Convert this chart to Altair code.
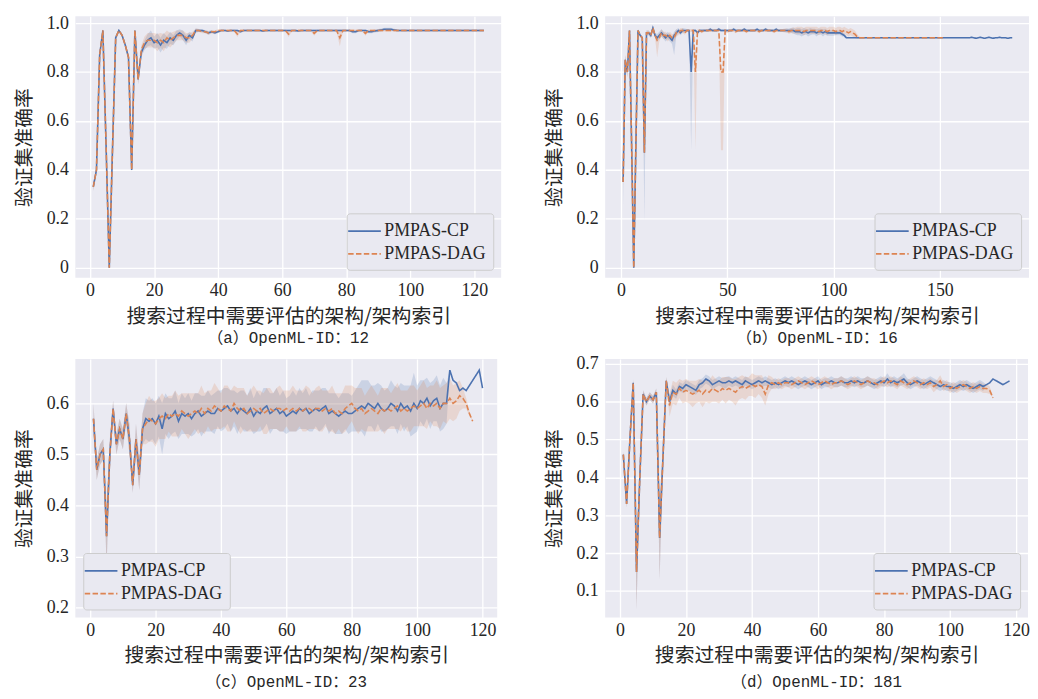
import altair as alt
import pandas as pd

BLUE = "#4C72B0"
ORANGE = "#DD8452"
SERIES = ["PMPAS-CP", "PMPAS-DAG"]
XTITLE = "搜索过程中需要评估的架构/架构索引"
YTITLE = "验证集准确率"

# ---------------- (a) OpenML-ID 12 ----------------
a_cp = [0.33, 0.40, 0.87, 0.97, 0.50, 0.00, 0.48, 0.94, 0.97, 0.95,
        0.91, 0.86, 0.40, 0.97, 0.77, 0.88, 0.91, 0.93, 0.94, 0.92,
        0.93, 0.91, 0.93, 0.92, 0.94, 0.93, 0.95, 0.96, 0.95, 0.93,
        0.95, 0.94, 0.97, 0.97, 0.97, 0.965, 0.96, 0.965, 0.96, 0.965,
        0.97, 0.97, 0.968, 0.97, 0.97, 0.97, 0.965, 0.97, 0.97, 0.97,
        0.97, 0.97, 0.97, 0.968, 0.97, 0.97, 0.97, 0.97, 0.97, 0.97,
        0.97, 0.97, 0.97, 0.97, 0.968, 0.97, 0.97, 0.97, 0.97, 0.97,
        0.97, 0.97, 0.97, 0.97, 0.97, 0.97, 0.97, 0.97, 0.97, 0.97,
        0.97, 0.965, 0.965, 0.97, 0.97, 0.97, 0.965, 0.965, 0.968, 0.97,
        0.972, 0.975, 0.975, 0.975, 0.972, 0.97, 0.97, 0.97, 0.97, 0.97,
        0.97, 0.97, 0.97, 0.97, 0.97, 0.97, 0.97, 0.97, 0.97, 0.97,
        0.97, 0.97, 0.97, 0.97, 0.97, 0.97, 0.97, 0.97, 0.97, 0.97,
        0.97, 0.97, 0.97]
a_cp_sd = [0.015, 0.01, 0.01, 0.005, 0.01, 0.005, 0.01, 0.005, 0.005, 0.005,
           0.005, 0.01, 0.01, 0.005, 0.02, 0.02, 0.02, 0.025, 0.03, 0.025,
           0.03, 0.03, 0.03, 0.025, 0.025, 0.02, 0.02, 0.015, 0.02, 0.02,
           0.015, 0.015, 0.008, 0.006, 0.006, 0.006, 0.008, 0.006, 0.006, 0.005,
           0.004, 0.004, 0.004, 0.004, 0.004, 0.004, 0.005, 0.004, 0.004, 0.004,
           0.004, 0.004, 0.004, 0.004, 0.004, 0.004, 0.004, 0.004, 0.004, 0.004,
           0.004, 0.004, 0.004, 0.004, 0.004, 0.004, 0.004, 0.004, 0.004, 0.004,
           0.004, 0.004, 0.004, 0.004, 0.004, 0.004, 0.004, 0.004, 0.004, 0.004,
           0.004, 0.006, 0.006, 0.004, 0.004, 0.004, 0.006, 0.006, 0.006, 0.006,
           0.006, 0.006, 0.006, 0.006, 0.005, 0.004, 0.004, 0.004, 0.004, 0.004,
           0.004, 0.004, 0.004, 0.004, 0.004, 0.004, 0.004, 0.004, 0.004, 0.004,
           0.004, 0.004, 0.004, 0.004, 0.004, 0.004, 0.004, 0.004, 0.004, 0.004,
           0.004, 0.004, 0.004]
a_dag = [0.33, 0.40, 0.87, 0.97, 0.50, 0.00, 0.48, 0.94, 0.97, 0.95,
         0.91, 0.86, 0.40, 0.97, 0.77, 0.89, 0.92, 0.93, 0.93, 0.93,
         0.92, 0.93, 0.92, 0.94, 0.93, 0.94, 0.95, 0.95, 0.95, 0.94,
         0.94, 0.95, 0.97, 0.97, 0.965, 0.965, 0.96, 0.965, 0.965, 0.97,
         0.97, 0.97, 0.97, 0.97, 0.97, 0.955, 0.97, 0.97, 0.97, 0.97,
         0.97, 0.97, 0.97, 0.97, 0.97, 0.97, 0.97, 0.97, 0.97, 0.97,
         0.97, 0.955, 0.97, 0.97, 0.97, 0.97, 0.97, 0.97, 0.97, 0.958,
         0.97, 0.97, 0.97, 0.97, 0.97, 0.97, 0.97, 0.94, 0.97, 0.97,
         0.97, 0.97, 0.97, 0.97, 0.97, 0.958, 0.97, 0.97, 0.97, 0.97,
         0.97, 0.97, 0.97, 0.97, 0.97, 0.97, 0.97, 0.97, 0.97, 0.97,
         0.97, 0.97, 0.97, 0.97, 0.97, 0.97, 0.97, 0.97, 0.97, 0.97,
         0.97, 0.97, 0.97, 0.97, 0.97, 0.97, 0.97, 0.97, 0.97, 0.97,
         0.97, 0.97, 0.97]
a_dag_sd = [0.015, 0.01, 0.01, 0.005, 0.01, 0.005, 0.01, 0.005, 0.005, 0.005,
            0.005, 0.01, 0.01, 0.005, 0.02, 0.02, 0.025, 0.03, 0.03, 0.03,
            0.035, 0.03, 0.035, 0.03, 0.03, 0.025, 0.02, 0.02, 0.02, 0.02,
            0.02, 0.015, 0.008, 0.006, 0.006, 0.006, 0.008, 0.006, 0.006, 0.005,
            0.004, 0.004, 0.004, 0.004, 0.004, 0.012, 0.004, 0.004, 0.004, 0.004,
            0.004, 0.004, 0.004, 0.004, 0.004, 0.004, 0.004, 0.004, 0.004, 0.004,
            0.004, 0.012, 0.004, 0.004, 0.004, 0.004, 0.004, 0.004, 0.004, 0.01,
            0.004, 0.004, 0.004, 0.004, 0.004, 0.004, 0.004, 0.035, 0.004, 0.004,
            0.004, 0.004, 0.004, 0.004, 0.004, 0.01, 0.004, 0.004, 0.004, 0.004,
            0.004, 0.004, 0.004, 0.004, 0.004, 0.004, 0.004, 0.004, 0.004, 0.004,
            0.004, 0.004, 0.004, 0.004, 0.004, 0.004, 0.004, 0.004, 0.004, 0.004,
            0.004, 0.004, 0.004, 0.004, 0.004, 0.004, 0.004, 0.004, 0.004, 0.004,
            0.004, 0.004, 0.004]

# ---------------- (b) OpenML-ID 16 ----------------
b_cp = [0.35, 0.85, 0.80, 0.97, 0.50, 0.00, 0.50, 0.97, 0.95, 0.94,
        0.47, 0.96, 0.96, 0.95, 0.98, 0.95, 0.94, 0.95, 0.96, 0.95,
        0.94, 0.95, 0.94, 0.93, 0.95, 0.96, 0.97, 0.96, 0.97, 0.97,
        0.97, 0.97, 0.80, 0.97, 0.97, 0.96, 0.97, 0.97, 0.97, 0.97,
        0.97, 0.975, 0.97, 0.97, 0.97, 0.975, 0.97, 0.97, 0.97, 0.97,
        0.97, 0.97, 0.975, 0.97, 0.97, 0.97, 0.97, 0.975, 0.97, 0.97,
        0.97, 0.97, 0.97, 0.975, 0.97, 0.97, 0.97, 0.975, 0.97, 0.97,
        0.97, 0.97, 0.975, 0.97, 0.97, 0.97, 0.97, 0.97, 0.97, 0.97,
        0.97, 0.965, 0.965, 0.965, 0.96, 0.965, 0.965, 0.96, 0.965, 0.965,
        0.965, 0.96, 0.965, 0.965, 0.96, 0.965, 0.96, 0.96, 0.96, 0.96,
        0.96, 0.96, 0.96, 0.955, 0.95, 0.94, 0.94, 0.94, 0.94, 0.94,
        0.94, 0.94, 0.94, 0.94, 0.94, 0.94, 0.94, 0.94, 0.94, 0.94,
        0.94, 0.94, 0.94, 0.94, 0.94, 0.94, 0.94, 0.94, 0.94, 0.94,
        0.94, 0.94, 0.94, 0.94, 0.94, 0.94, 0.94, 0.94, 0.94, 0.94,
        0.94, 0.94, 0.94, 0.94, 0.94, 0.94, 0.94, 0.94, 0.94, 0.94,
        0.94, 0.94, 0.94, 0.94, 0.94, 0.94, 0.94, 0.94, 0.94, 0.94,
        0.94, 0.94, 0.94, 0.94, 0.942, 0.94, 0.938, 0.94, 0.942, 0.94,
        0.938, 0.94, 0.942, 0.94, 0.938, 0.94, 0.94, 0.942, 0.94, 0.94,
        0.94, 0.938, 0.94, 0.94]
b_cp_sd = [0.02, 0.02, 0.02, 0.005, 0.005, 0.005, 0.005, 0.005, 0.005, 0.005,
           0.02, 0.01, 0.01, 0.01, 0.01, 0.01, 0.015, 0.015, 0.015, 0.015,
           0.015, 0.015, 0.015, 0.015, 0.015, 0.015, 0.01, 0.01, 0.01, 0.008,
           0.006, 0.006, 0.01, 0.006, 0.006, 0.006, 0.006, 0.006, 0.006, 0.006,
           0.006, 0.006, 0.006, 0.006, 0.006, 0.006, 0.006, 0.006, 0.006, 0.006,
           0.006, 0.006, 0.006, 0.006, 0.006, 0.006, 0.006, 0.006, 0.006, 0.006,
           0.006, 0.006, 0.006, 0.006, 0.006, 0.006, 0.006, 0.006, 0.006, 0.006,
           0.006, 0.006, 0.006, 0.006, 0.006, 0.006, 0.006, 0.008, 0.008, 0.01,
           0.012, 0.012, 0.015, 0.015, 0.015, 0.015, 0.012, 0.015, 0.015, 0.012,
           0.012, 0.015, 0.012, 0.012, 0.015, 0.012, 0.012, 0.012, 0.012, 0.012,
           0.01, 0.01, 0.01, 0.01, 0.008, 0.002, 0.002, 0.002, 0.002, 0.002,
           0.002, 0.002, 0.002, 0.002, 0.002, 0.002, 0.002, 0.002, 0.002, 0.002,
           0.002, 0.002, 0.002, 0.002, 0.002, 0.002, 0.002, 0.002, 0.002, 0.002,
           0.002, 0.002, 0.002, 0.002, 0.002, 0.002, 0.002, 0.002, 0.002, 0.002,
           0.002, 0.002, 0.002, 0.002, 0.002, 0.002, 0.002, 0.002, 0.002, 0.002,
           0.002, 0.002, 0.002, 0.002, 0.002, 0.002, 0.002, 0.002, 0.002, 0.002,
           0.002, 0.002, 0.002, 0.002, 0.002, 0.002, 0.002, 0.002, 0.002, 0.002,
           0.002, 0.002, 0.002, 0.002, 0.002, 0.002, 0.002, 0.002, 0.002, 0.002,
           0.002, 0.002, 0.002, 0.002]
b_cp_low = {1: 0.25, 11: 0.19, 25: 0.87, 33: 0.48}
b_dag = [0.35, 0.85, 0.80, 0.97, 0.50, 0.00, 0.50, 0.97, 0.95, 0.94,
         0.47, 0.96, 0.96, 0.95, 0.98, 0.95, 0.93, 0.94, 0.96, 0.95,
         0.95, 0.94, 0.95, 0.94, 0.94, 0.96, 0.96, 0.97, 0.97, 0.96,
         0.97, 0.97, 0.97, 0.97, 0.80, 0.97, 0.97, 0.965, 0.97, 0.97,
         0.97, 0.97, 0.97, 0.97, 0.97, 0.97, 0.80, 0.80, 0.97, 0.965,
         0.97, 0.97, 0.97, 0.965, 0.97, 0.97, 0.97, 0.97, 0.965, 0.97,
         0.97, 0.97, 0.97, 0.97, 0.965, 0.97, 0.97, 0.97, 0.97, 0.97,
         0.97, 0.965, 0.97, 0.97, 0.97, 0.97, 0.97, 0.97, 0.965, 0.97,
         0.97, 0.97, 0.97, 0.97, 0.97, 0.965, 0.97, 0.97, 0.97, 0.97,
         0.97, 0.97, 0.965, 0.97, 0.97, 0.97, 0.965, 0.97, 0.97, 0.97,
         0.965, 0.97, 0.97, 0.965, 0.97, 0.965, 0.96, 0.965, 0.96, 0.955,
         0.945, 0.94, 0.94, 0.94, 0.94, 0.94, 0.94, 0.94, 0.94, 0.94,
         0.94, 0.94, 0.94, 0.94, 0.94, 0.94, 0.94, 0.94, 0.94, 0.94,
         0.94, 0.94, 0.94, 0.94, 0.94, 0.94, 0.94, 0.94, 0.94, 0.94,
         0.94, 0.94, 0.94, 0.94, 0.94, 0.94, 0.94, 0.94, 0.94, 0.94,
         0.94, 0.94]
b_dag_sd = [0.02, 0.02, 0.02, 0.005, 0.005, 0.005, 0.005, 0.005, 0.005, 0.005,
            0.02, 0.01, 0.01, 0.01, 0.01, 0.01, 0.015, 0.015, 0.015, 0.015,
            0.015, 0.015, 0.015, 0.015, 0.015, 0.015, 0.01, 0.01, 0.01, 0.008,
            0.006, 0.006, 0.006, 0.006, 0.01, 0.006, 0.006, 0.006, 0.006, 0.006,
            0.006, 0.006, 0.006, 0.006, 0.006, 0.006, 0.01, 0.01, 0.006, 0.006,
            0.006, 0.006, 0.006, 0.006, 0.006, 0.006, 0.006, 0.006, 0.006, 0.006,
            0.006, 0.006, 0.006, 0.006, 0.006, 0.006, 0.006, 0.006, 0.006, 0.006,
            0.006, 0.006, 0.006, 0.006, 0.006, 0.006, 0.008, 0.008, 0.01, 0.01,
            0.012, 0.012, 0.015, 0.015, 0.015, 0.015, 0.015, 0.015, 0.015, 0.015,
            0.015, 0.015, 0.015, 0.015, 0.015, 0.015, 0.015, 0.015, 0.015, 0.015,
            0.015, 0.015, 0.015, 0.015, 0.015, 0.015, 0.015, 0.015, 0.015, 0.015,
            0.01, 0.005, 0.002, 0.002, 0.002, 0.002, 0.002, 0.002, 0.002, 0.002,
            0.002, 0.002, 0.002, 0.002, 0.002, 0.002, 0.002, 0.002, 0.002, 0.002,
            0.002, 0.002, 0.002, 0.002, 0.002, 0.002, 0.002, 0.002, 0.002, 0.002,
            0.002, 0.002, 0.002, 0.002, 0.002, 0.002, 0.002, 0.002, 0.002, 0.002,
            0.002, 0.002]
b_dag_low = {17: 0.86, 35: 0.48, 47: 0.48, 48: 0.48}

# ---------------- (c) OpenML-ID 23 ----------------
c_cp = [0.57, 0.47, 0.50, 0.51, 0.34, 0.50, 0.59, 0.52, 0.55, 0.53,
        0.58, 0.53, 0.44, 0.53, 0.46, 0.55, 0.57, 0.565, 0.57, 0.56,
        0.575, 0.55, 0.58, 0.57, 0.575, 0.585, 0.565, 0.58, 0.575, 0.58,
        0.57, 0.58, 0.585, 0.575, 0.58, 0.585, 0.58, 0.58, 0.59, 0.585,
        0.59, 0.595, 0.585, 0.59, 0.58, 0.59, 0.585, 0.58, 0.59, 0.575,
        0.585, 0.58, 0.59, 0.595, 0.58, 0.585, 0.59, 0.58, 0.585, 0.575,
        0.58, 0.585, 0.58, 0.59, 0.585, 0.59, 0.58, 0.585, 0.59, 0.585,
        0.59, 0.595, 0.58, 0.585, 0.58, 0.575, 0.58, 0.585, 0.58, 0.58,
        0.585, 0.59, 0.595, 0.59, 0.60, 0.595, 0.59, 0.60, 0.59, 0.585,
        0.59, 0.60, 0.595, 0.585, 0.60, 0.59, 0.595, 0.585, 0.60, 0.59,
        0.605, 0.60, 0.61, 0.595, 0.605, 0.61, 0.59, 0.60, 0.60, 0.665,
        0.645, 0.64, 0.625, 0.63, 0.625, 0.635, 0.645, 0.655, 0.665, 0.63]
c_cp_sd = [0.03, 0.02, 0.02, 0.02, 0.06, 0.03, 0.015, 0.02, 0.02, 0.02,
           0.02, 0.03, 0.015, 0.03, 0.03, 0.03, 0.04, 0.04, 0.04, 0.04,
           0.04, 0.05, 0.04, 0.04, 0.035, 0.04, 0.035, 0.04, 0.035, 0.04,
           0.035, 0.04, 0.035, 0.04, 0.035, 0.04, 0.035, 0.04, 0.035, 0.04,
           0.04, 0.035, 0.04, 0.035, 0.04, 0.035, 0.04, 0.035, 0.04, 0.035,
           0.04, 0.035, 0.04, 0.035, 0.04, 0.035, 0.04, 0.035, 0.04, 0.035,
           0.035, 0.04, 0.035, 0.04, 0.035, 0.04, 0.035, 0.04, 0.035, 0.04,
           0.04, 0.035, 0.04, 0.035, 0.04, 0.035, 0.04, 0.035, 0.04, 0.035,
           0.04, 0.045, 0.05, 0.055, 0.045, 0.04, 0.045, 0.04, 0.045, 0.04,
           0.04, 0.045, 0.04, 0.045, 0.04, 0.045, 0.04, 0.05, 0.06, 0.045,
           0.04, 0.045, 0.04, 0.045, 0.04, 0.045, 0.045, 0.05, 0.04, 0.0,
           0.0, 0.0, 0.0, 0.0, 0.0, 0.0, 0.0, 0.0, 0.0, 0.0]
c_dag = [0.57, 0.47, 0.50, 0.51, 0.34, 0.50, 0.59, 0.52, 0.55, 0.53,
         0.58, 0.53, 0.44, 0.53, 0.46, 0.55, 0.56, 0.57, 0.565, 0.56,
         0.57, 0.575, 0.57, 0.58, 0.575, 0.58, 0.575, 0.585, 0.58, 0.575,
         0.58, 0.585, 0.58, 0.59, 0.58, 0.59, 0.585, 0.595, 0.59, 0.585,
         0.595, 0.59, 0.585, 0.60, 0.59, 0.585, 0.59, 0.58, 0.585, 0.59,
         0.585, 0.59, 0.58, 0.585, 0.59, 0.585, 0.59, 0.59, 0.585, 0.59,
         0.585, 0.59, 0.585, 0.59, 0.585, 0.59, 0.59, 0.585, 0.59, 0.59,
         0.585, 0.59, 0.585, 0.59, 0.58, 0.585, 0.58, 0.59, 0.595, 0.60,
         0.59, 0.585, 0.59, 0.58, 0.585, 0.59, 0.585, 0.58, 0.59, 0.585,
         0.59, 0.585, 0.59, 0.595, 0.585, 0.59, 0.585, 0.59, 0.595, 0.59,
         0.595, 0.60, 0.59, 0.60, 0.595, 0.60, 0.59, 0.60, 0.60, 0.61,
         0.60, 0.605, 0.615, 0.61, 0.60, 0.58, 0.565]
c_dag_sd = [0.03, 0.02, 0.02, 0.02, 0.06, 0.03, 0.015, 0.02, 0.02, 0.02,
            0.02, 0.03, 0.015, 0.03, 0.03, 0.03, 0.04, 0.045, 0.04, 0.045,
            0.04, 0.045, 0.04, 0.035, 0.04, 0.045, 0.04, 0.035, 0.04, 0.045,
            0.04, 0.035, 0.04, 0.045, 0.04, 0.035, 0.04, 0.045, 0.04, 0.035,
            0.04, 0.045, 0.04, 0.035, 0.04, 0.045, 0.04, 0.035, 0.04, 0.045,
            0.04, 0.035, 0.04, 0.045, 0.04, 0.035, 0.04, 0.045, 0.04, 0.035,
            0.04, 0.045, 0.04, 0.035, 0.04, 0.045, 0.04, 0.035, 0.04, 0.045,
            0.04, 0.035, 0.04, 0.045, 0.04, 0.035, 0.04, 0.045, 0.04, 0.035,
            0.04, 0.045, 0.04, 0.035, 0.04, 0.045, 0.04, 0.035, 0.04, 0.045,
            0.04, 0.035, 0.04, 0.045, 0.04, 0.035, 0.04, 0.045, 0.04, 0.035,
            0.04, 0.045, 0.04, 0.035, 0.04, 0.045, 0.04, 0.035, 0.04, 0.04,
            0.035, 0.035, 0.03, 0.02, 0.01, 0.005, 0.0]

# ---------------- (d) OpenML-ID 181 ----------------
d_cp = [0.46, 0.33, 0.50, 0.65, 0.15, 0.40, 0.62, 0.60, 0.615, 0.605,
        0.625, 0.24, 0.45, 0.655, 0.60, 0.63, 0.62, 0.64, 0.635, 0.645,
        0.64, 0.635, 0.63, 0.645, 0.65, 0.66, 0.655, 0.645, 0.65, 0.655,
        0.65, 0.65, 0.655, 0.65, 0.655, 0.65, 0.645, 0.655, 0.65, 0.645,
        0.65, 0.655, 0.65, 0.655, 0.65, 0.645, 0.65, 0.645, 0.65, 0.655,
        0.65, 0.655, 0.65, 0.645, 0.65, 0.655, 0.65, 0.645, 0.65, 0.655,
        0.645, 0.65, 0.65, 0.655, 0.65, 0.65, 0.655, 0.65, 0.65, 0.655,
        0.65, 0.655, 0.65, 0.65, 0.655, 0.65, 0.645, 0.65, 0.655, 0.65,
        0.66, 0.65, 0.655, 0.65, 0.655, 0.66, 0.65, 0.645, 0.65, 0.655,
        0.65, 0.645, 0.65, 0.655, 0.65, 0.645, 0.64, 0.645, 0.64, 0.64,
        0.635, 0.64, 0.645, 0.64, 0.645, 0.64, 0.635, 0.64, 0.645, 0.64,
        0.645, 0.65, 0.66, 0.655, 0.65, 0.645, 0.65, 0.655]
d_cp_sd = [0.01, 0.01, 0.01, 0.01, 0.10, 0.01, 0.01, 0.01, 0.01, 0.01,
           0.01, 0.11, 0.01, 0.01, 0.015, 0.015, 0.012, 0.012, 0.012, 0.012,
           0.012, 0.012, 0.012, 0.012, 0.012, 0.012, 0.012, 0.012, 0.012, 0.012,
           0.012, 0.015, 0.012, 0.012, 0.012, 0.012, 0.012, 0.012, 0.012, 0.012,
           0.012, 0.012, 0.012, 0.012, 0.012, 0.012, 0.012, 0.012, 0.012, 0.012,
           0.012, 0.012, 0.012, 0.012, 0.012, 0.012, 0.012, 0.012, 0.012, 0.012,
           0.012, 0.012, 0.012, 0.012, 0.012, 0.012, 0.012, 0.012, 0.012, 0.012,
           0.012, 0.012, 0.012, 0.012, 0.012, 0.012, 0.012, 0.012, 0.012, 0.012,
           0.015, 0.012, 0.012, 0.012, 0.012, 0.015, 0.012, 0.012, 0.012, 0.012,
           0.012, 0.012, 0.012, 0.012, 0.012, 0.012, 0.012, 0.012, 0.012, 0.012,
           0.012, 0.012, 0.012, 0.012, 0.012, 0.012, 0.012, 0.012, 0.012, 0.012,
           0.0, 0.0, 0.0, 0.0, 0.0, 0.0, 0.0, 0.0]
d_dag = [0.46, 0.33, 0.50, 0.65, 0.15, 0.40, 0.62, 0.60, 0.615, 0.605,
         0.625, 0.24, 0.45, 0.655, 0.59, 0.625, 0.62, 0.635, 0.625, 0.63,
         0.625, 0.62, 0.625, 0.63, 0.62, 0.63, 0.625, 0.635, 0.63, 0.625,
         0.635, 0.63, 0.635, 0.63, 0.625, 0.635, 0.64, 0.635, 0.64, 0.645,
         0.64, 0.645, 0.64, 0.62, 0.645, 0.65, 0.645, 0.65, 0.645, 0.65,
         0.65, 0.645, 0.65, 0.655, 0.65, 0.645, 0.65, 0.655, 0.65, 0.645,
         0.65, 0.655, 0.65, 0.645, 0.65, 0.65, 0.655, 0.65, 0.645, 0.65,
         0.655, 0.65, 0.645, 0.65, 0.655, 0.65, 0.65, 0.645, 0.65, 0.655,
         0.65, 0.655, 0.65, 0.645, 0.655, 0.65, 0.645, 0.65, 0.655, 0.65,
         0.645, 0.65, 0.645, 0.65, 0.64, 0.645, 0.655, 0.64, 0.645, 0.635,
         0.64, 0.635, 0.64, 0.645, 0.64, 0.635, 0.64, 0.635, 0.64, 0.635,
         0.635, 0.63, 0.61]
d_dag_sd = [0.01, 0.01, 0.01, 0.01, 0.10, 0.01, 0.01, 0.01, 0.01, 0.01,
            0.01, 0.11, 0.01, 0.01, 0.03, 0.03, 0.03, 0.025, 0.03, 0.03,
            0.03, 0.035, 0.03, 0.03, 0.035, 0.03, 0.03, 0.035, 0.03, 0.03,
            0.03, 0.035, 0.03, 0.03, 0.035, 0.03, 0.03, 0.03, 0.025, 0.03,
            0.03, 0.025, 0.03, 0.03, 0.025, 0.015, 0.012, 0.012, 0.012, 0.012,
            0.012, 0.012, 0.012, 0.012, 0.012, 0.012, 0.012, 0.012, 0.012, 0.012,
            0.012, 0.012, 0.012, 0.012, 0.012, 0.012, 0.012, 0.012, 0.012, 0.012,
            0.012, 0.012, 0.012, 0.012, 0.012, 0.012, 0.012, 0.012, 0.012, 0.012,
            0.012, 0.012, 0.012, 0.012, 0.012, 0.012, 0.012, 0.012, 0.012, 0.012,
            0.012, 0.012, 0.012, 0.012, 0.015, 0.012, 0.015, 0.012, 0.012, 0.012,
            0.012, 0.012, 0.012, 0.012, 0.012, 0.012, 0.012, 0.012, 0.012, 0.012,
            0.012, 0.01, 0.0]


def rows(vals, sds, name, low=None):
    out = []
    for i, (v, s) in enumerate(zip(vals, sds)):
        idx = i + 1
        lo = v - s
        if low and idx in low:
            lo = low[idx]
        out.append({"x": idx, "y": v, "lo": lo, "hi": v + s, "series": name})
    return out


def panel(cp, cp_sd, dag, dag_sd, xdom, ydom, xticks, yticks, w, h,
          caption, legend_orient, cap_offset, cp_low=None, dag_low=None):
    df = pd.DataFrame(rows(cp, cp_sd, SERIES[0], cp_low) +
                      rows(dag, dag_sd, SERIES[1], dag_low))
    xs = alt.Scale(domain=xdom, nice=False, zero=False)
    ys = alt.Scale(domain=ydom, nice=False, zero=False)
    xax = alt.Axis(values=xticks, title=XTITLE, titlePadding=7, labelPadding=4)
    yax = alt.Axis(values=yticks, title=YTITLE, titlePadding=12, labelPadding=7,
                   labelExpr="datum.value == 0 ? '0' : format(datum.value, '.1f')")
    base = alt.Chart(df)
    layers = []
    for name, col in zip(SERIES, [BLUE, ORANGE]):
        layers.append(
            base.transform_filter(alt.datum.series == name)
            .mark_area(color=col, opacity=0.2, clip=True)
            .encode(x=alt.X("x:Q", scale=xs, axis=xax),
                    y=alt.Y("lo:Q", scale=ys, axis=yax),
                    y2="hi:Q")
        )
    leg = alt.Legend(title=None, orient=legend_orient, offset=8,
                     symbolType="M-1.65,0H1.65", symbolSize=400,
                     symbolStrokeWidth=1.8,
                     labelFont="Liberation Serif", labelFontSize=18,
                     labelColor="#262626", fillColor="#E9E9F1",
                     strokeColor="#CCCCCC", cornerRadius=3, padding=7,
                     rowPadding=3, labelOffset=9)
    line = base.mark_line(strokeWidth=1.6, clip=True).encode(
        x=alt.X("x:Q", scale=xs, axis=xax),
        y=alt.Y("y:Q", scale=ys, axis=yax),
        color=alt.Color("series:N", sort=SERIES,
                        scale=alt.Scale(domain=SERIES, range=[BLUE, ORANGE]),
                        legend=leg),
        strokeDash=alt.StrokeDash("series:N", sort=SERIES,
                                  scale=alt.Scale(domain=SERIES,
                                                  range=[[1, 0], [5.5, 2.4]]),
                                  legend=leg),
        detail="series:N",
    )
    layers.append(line)
    return alt.layer(*layers).properties(
        width=w, height=h,
        title=alt.TitleParams(caption, orient="bottom", anchor="middle",
                              font="Liberation Mono, Noto Sans CJK SC",
                              fontSize=16, fontWeight="normal",
                              color="#262626", offset=cap_offset),
    )


pa = panel(a_cp, a_cp_sd, a_dag, a_dag_sd, [-4.6, 128.4], [-0.041, 1.028],
           [0, 20, 40, 60, 80, 100, 120], [0, 0.2, 0.4, 0.6, 0.8, 1.0],
           430, 264, "（a）OpenML-ID：12", "bottom-right", 4)
pb = panel(b_cp, b_cp_sd, b_dag, b_dag_sd, [-7.45, 191.9], [-0.041, 1.028],
           [0, 50, 100, 150], [0, 0.2, 0.4, 0.6, 0.8, 1.0],
           428, 264, "（b）OpenML-ID：16", "bottom-right", 4,
           cp_low=b_cp_low, dag_low=b_dag_low)
pc = panel(c_cp, c_cp_sd, c_dag, c_dag_sd, [-4.55, 124.5], [0.181, 0.687],
           [0, 20, 40, 60, 80, 100, 120], [0.2, 0.3, 0.4, 0.5, 0.6],
           426, 261, "（c）OpenML-ID：23", "bottom-left", 8)
pd_ = panel(d_cp, d_cp_sd, d_dag, d_dag_sd, [-4.5, 123.6], [0.030, 0.713],
            [0, 20, 40, 60, 80, 100, 120], [0.1, 0.2, 0.3, 0.4, 0.5, 0.6, 0.7],
            427, 261, "（d）OpenML-ID：181", "bottom-right", 8)

chart = (
    alt.concat(pa, pb, pc, pd_, columns=2, spacing={"row": 8, "column": 43})
    .resolve_scale(x="independent", y="independent", color="independent",
                   strokeDash="independent")
    .resolve_legend(color="independent", strokeDash="independent")
    .properties(padding={"left": 6, "top": 2, "right": 0, "bottom": 0},
                background="white")
    .configure_view(fill="#EAEAF2", stroke=None)
    .configure_axis(grid=True, gridColor="white", gridWidth=1.3, domain=False,
                    ticks=False, tickSize=0, labelFont="Liberation Serif",
                    labelFontSize=18, labelColor="#262626",
                    titleFont="Noto Sans CJK SC", titleFontSize=20,
                    titleFontWeight="normal", titleColor="#262626")
)

chart.save("out.html", embed_options={"renderer": "svg", "actions": False})
